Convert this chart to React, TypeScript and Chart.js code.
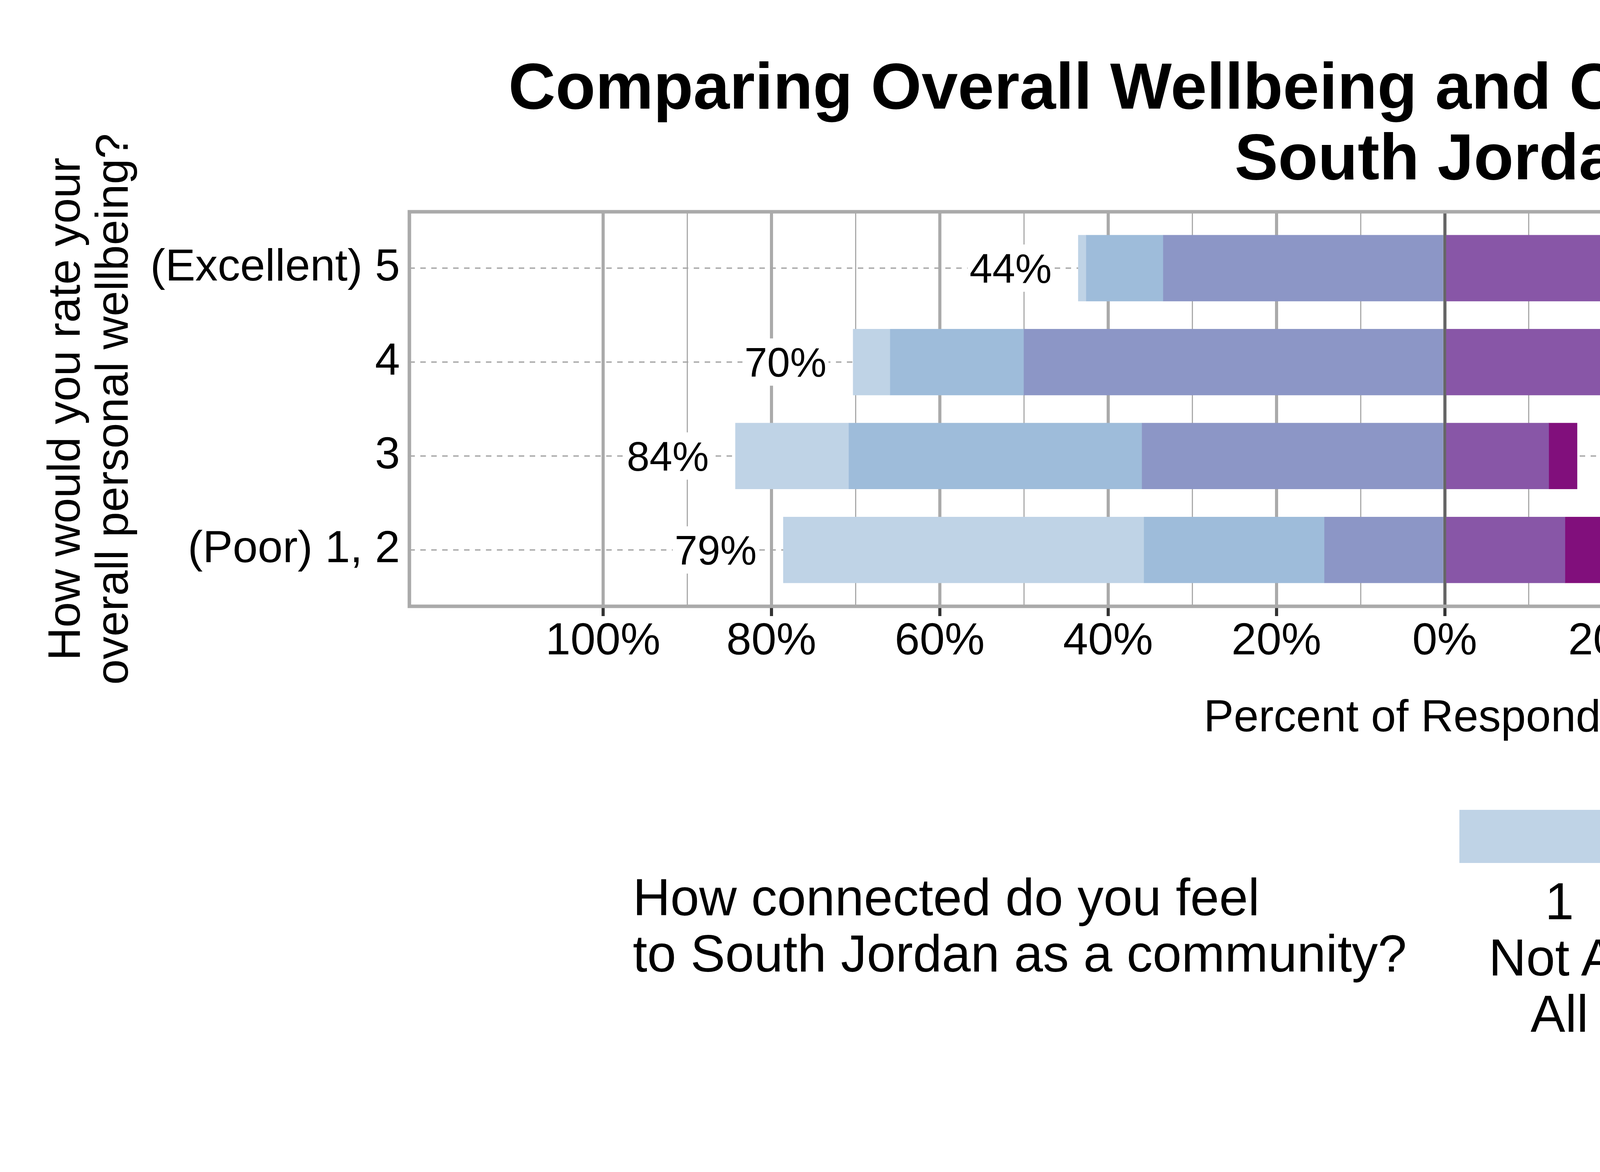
import { useEffect, useRef } from 'react';
import { Chart, registerables } from 'chart.js';

Chart.register(...registerables);

const FONT = '"Liberation Sans", Arial, Helvetica, sans-serif';

const title = ['Comparing Overall Wellbeing and Community Connection in', 'South Jordan'];
const yTitle = ['How would you rate your', 'overall personal wellbeing?'];
const xTitle = 'Percent of Respondents';
const legendTitle = ['How connected do you feel', 'to South Jordan as a community?'];

const wellbeing = ['(Excellent) 5', '4', '3', '(Poor) 1, 2'];
const responses = [317, 340, 89, 14];

// % of respondents at each level of community connection
const notAtAll = [0.95, 4.41, 13.48, 42.86];
const level2 = [9.15, 15.88, 34.83, 21.43];
const level3 = [33.44, 50.0, 35.96, 14.29];
const level4 = [40.38, 23.82, 12.36, 14.29];
const greatDeal = [16.09, 5.88, 3.37, 7.14];

const levelNames = [['1', 'Not At', 'All'], ['2'], ['3'], ['4'], ['5', 'A Great', 'Deal']];
const levelColors = ['#bfd3e6', '#9ebcda', '#8c96c6', '#8856a7', '#810f7c'];

const xTicks = [-100, -90, -80, -70, -60, -50, -40, -30, -20, -10, 0, 10, 20, 30, 40, 50, 60, 70, 80, 90, 100];
const countColumnAt = 112; // where the "# Responses" column sits on the x scale

function boxedText(ctx: CanvasRenderingContext2D, text: string, x: number, cy: number, align: 'left' | 'right' | 'center', size: number, padX: number, boxH: number) {
  ctx.font = `${size}px ${FONT}`;
  const w = ctx.measureText(text).width;
  const x0 = align === 'right' ? x - w : align === 'left' ? x : x - w / 2;
  ctx.fillStyle = '#fff';
  ctx.fillRect(x0 - padX, cy - boxH / 2, w + padX * 2, boxH);
  ctx.fillStyle = '#000';
  ctx.textAlign = 'left';
  ctx.textBaseline = 'alphabetic';
  ctx.fillText(text, x0, cy + size * 0.358);
}

const overlay = {
  id: 'overlay',
  beforeDatasetsDraw(chart: any) {
    const { ctx, chartArea: a, scales } = chart;
    ctx.save();
    ctx.strokeStyle = '#a8a8a8';
    ctx.lineWidth = 3.5;
    ctx.setLineDash([14, 14]);
    wellbeing.forEach((_, i) => {
      const py = scales.y.getPixelForValue(i);
      ctx.beginPath();
      ctx.moveTo(a.left, py);
      ctx.lineTo(a.right, py);
      ctx.stroke();
    });
    ctx.restore();
  },
  afterDraw(chart: any) {
    const { ctx, chartArea: a, scales: { x, y } } = chart;
    ctx.save();
    wellbeing.forEach((_, i) => {
      const left = notAtAll[i] + level2[i] + level3[i];
      const right = level4[i] + greatDeal[i];
      const py = y.getPixelForValue(i);
      boxedText(ctx, `${Math.round(left)}%`, x.getPixelForValue(-left) - 68, py, 'right', 105, 5, 121);
      boxedText(ctx, `${Math.round(right)}%`, x.getPixelForValue(right) + 68, py, 'left', 105, 5, 121);
      boxedText(ctx, String(responses[i]), x.getPixelForValue(countColumnAt), py, 'center', 95, 16, 110);
    });

    // panel border
    ctx.strokeStyle = '#aaaaaa';
    ctx.lineWidth = 9;
    ctx.strokeRect(a.left, a.top, a.right - a.left, a.bottom - a.top);

    // "# Responses" header
    const cx = x.getPixelForValue(countColumnAt);
    ctx.font = `95px ${FONT}`;
    const w = ctx.measureText('# Responses').width + 26;
    ctx.beginPath();
    ctx.roundRect(cx - w / 2, a.top - 55, w, 110, 15);
    ctx.fillStyle = '#fff';
    ctx.fill();
    ctx.lineWidth = 2.5;
    ctx.strokeStyle = '#000';
    ctx.stroke();
    ctx.fillStyle = '#000';
    ctx.textAlign = 'center';
    ctx.textBaseline = 'alphabetic';
    ctx.fillText('# Responses', cx, a.top + 34);
    ctx.restore();
  },
};

export default function App() {
  const chartRef = useRef<HTMLCanvasElement>(null);

  useEffect(() => {
    document.body.style.margin = '0';
    if (!chartRef.current) return;

    const bar = (label: string, values: number[], color: string, sign: number) => ({
      label,
      data: values.map((v, i) => ({ x: sign * v, y: i })),
      backgroundColor: color,
      borderWidth: 0,
      barThickness: 169,
    });

    const chart = new Chart(chartRef.current, {
      type: 'bar',
      data: {
        datasets: [
          bar('3', level3, levelColors[2], -1),
          bar('2', level2, levelColors[1], -1),
          bar('1', notAtAll, levelColors[0], -1),
          bar('4', level4, levelColors[3], 1),
          bar('5', greatDeal, levelColors[4], 1),
        ],
      },
      options: {
        animation: false,
        responsive: false,
        devicePixelRatio: 1,
        indexAxis: 'y',
        layout: { padding: { top: 0, right: 251, bottom: 0, left: 0 } },
        plugins: {
          legend: { display: false },
          tooltip: { enabled: false },
          title: {
            display: true, text: title, fullSize: false, color: '#000',
            font: { family: FONT, size: 167, weight: 'bold', lineHeight: 1.084 },
            padding: { top: 141, bottom: 39 },
          },
        },
        scales: {
          x: {
            type: 'linear', min: -123, max: 123, stacked: true, offset: false,
            afterBuildTicks: (s: any) => { s.ticks = xTicks.map(v => ({ value: v })); },
            afterFit: (s: any) => { s.height = 1448; },
            ticks: {
              autoSkip: false, maxRotation: 0, padding: 0, color: '#000',
              font: { family: FONT, size: 115, lineHeight: 1.15 },
              callback: (v: any) => (v % 20 === 0 ? `${Math.abs(v)}%` : ''),
            },
            grid: {
              offset: false,
              color: (c: any) => (c.tick && c.tick.value === 0 ? '#666666' : '#aaaaaa'),
              lineWidth: (c: any) => (c.tick && c.tick.value % 20 === 0 ? 8 : 3),
              tickColor: (c: any) => (c.tick && c.tick.value % 20 === 0 ? '#333333' : 'rgba(0,0,0,0)'),
              tickWidth: 8,
              tickLength: 25,
            },
            border: { display: false },
            title: {
              display: true, text: xTitle, color: '#000',
              font: { family: FONT, size: 115 },
              padding: { top: 0, bottom: 1091 },
            },
          },
          y: {
            type: 'linear', min: -0.6, max: 3.6, reverse: true, stacked: true, offset: false,
            afterBuildTicks: (s: any) => { s.ticks = wellbeing.map((_, i) => ({ value: i })); },
            afterFit: (s: any) => { s.width = 1048; },
            ticks: {
              autoSkip: false, padding: 24, color: '#000',
              font: { family: FONT, size: 115 },
              callback: (v: any) => wellbeing[v] ?? '',
            },
            grid: { display: false, drawTicks: false, offset: false },
            border: { display: false },
            title: {
              display: true, text: yTitle, color: '#000',
              font: { family: FONT, size: 117, lineHeight: 1.05 },
              padding: { top: 110, bottom: 0 },
            },
          },
        },
      },
      plugins: [overlay],
    } as any);

    return () => { chart.destroy(); };
  }, []);

  return (
    <div style={{ position: 'relative', width: 6600, height: 3000, background: '#fff', fontFamily: FONT, color: '#000' }}>
      <canvas ref={chartRef} width={6600} height={3000} style={{ position: 'absolute', left: 0, top: 0, width: 6600, height: 3000 }} />

      <div style={{ position: 'absolute', left: 1620, top: 2225, fontSize: 133, lineHeight: '144px', whiteSpace: 'pre' }}>
        {legendTitle.join('\n')}
      </div>

      <div style={{ position: 'absolute', left: 3736, top: 2073, display: 'flex', gap: 59, alignItems: 'flex-start' }}>
        {levelNames.map((lines, i) => (
          <div key={lines[0]}>
            <div style={{ height: 136, background: levelColors[i] }} />
            <div style={{ marginTop: 26, padding: '0 75px', textAlign: 'center', fontSize: 133, lineHeight: '144px', whiteSpace: 'nowrap' }}>
              {lines.map(l => <div key={l}>{l}</div>)}
            </div>
          </div>
        ))}
      </div>
    </div>
  );
}
